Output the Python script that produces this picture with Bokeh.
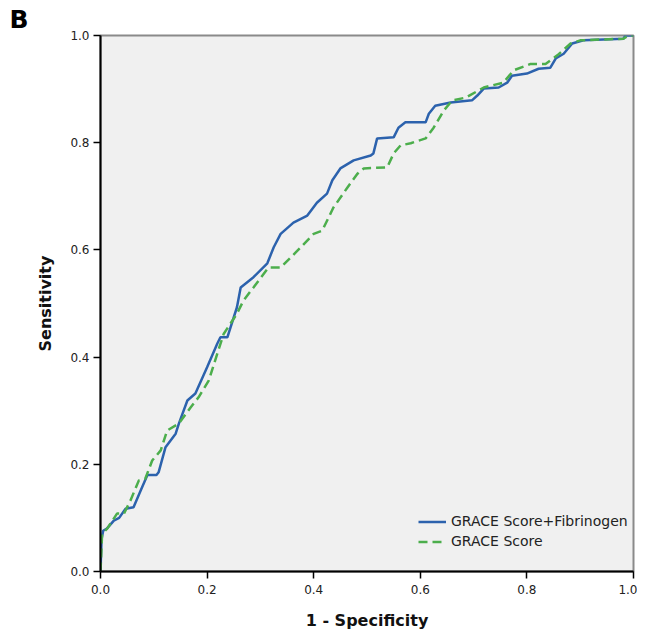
from bokeh.plotting import figure
from bokeh.models import Range1d, FixedTicker, PrintfTickFormatter, Legend, LegendItem
from bokeh.embed import file_html
from bokeh.resources import INLINE

# GRACE Score + Fibrinogen (blue, solid step-like ROC curve)
fib_x = [0, 0.002, 0.005, 0.012, 0.025, 0.035, 0.047, 0.062, 0.075, 0.088, 0.105, 0.109,
         0.122, 0.141, 0.147, 0.163, 0.178, 0.2, 0.219, 0.225, 0.238, 0.256, 0.263, 0.287,
         0.313, 0.325, 0.338, 0.362, 0.388, 0.406, 0.425, 0.435, 0.45, 0.475, 0.507, 0.512,
         0.519, 0.55, 0.559, 0.572, 0.61, 0.616, 0.628, 0.657, 0.697, 0.707, 0.719, 0.747,
         0.763, 0.772, 0.8, 0.822, 0.844, 0.854, 0.869, 0.885, 0.906, 0.981, 0.985, 1.0]
fib_y = [0, 0.06, 0.076, 0.08, 0.095, 0.1, 0.117, 0.12, 0.15, 0.18, 0.18, 0.185,
         0.232, 0.257, 0.276, 0.319, 0.332, 0.381, 0.425, 0.437, 0.437, 0.493, 0.53, 0.549,
         0.575, 0.605, 0.63, 0.651, 0.664, 0.688, 0.705, 0.73, 0.752, 0.767, 0.776, 0.78,
         0.808, 0.81, 0.828, 0.838, 0.838, 0.854, 0.869, 0.875, 0.879, 0.888, 0.901, 0.903,
         0.912, 0.925, 0.929, 0.938, 0.94, 0.957, 0.966, 0.985, 0.991, 0.994, 1.0, 1.0]

# GRACE Score (green, dashed ROC curve)
grace_x = [0, 0.003, 0.0125, 0.031, 0.044, 0.056, 0.072, 0.084, 0.097, 0.113, 0.125, 0.147,
           0.169, 0.184, 0.203, 0.219, 0.231, 0.256, 0.268, 0.287, 0.315, 0.338, 0.369, 0.4,
           0.416, 0.437, 0.463, 0.482, 0.494, 0.538, 0.55, 0.563, 0.582, 0.61, 0.625, 0.644,
           0.66, 0.685, 0.719, 0.756, 0.775, 0.807, 0.835, 0.857, 0.882, 0.9, 0.981, 0.99, 1.0]
grace_y = [0, 0.07, 0.08, 0.108, 0.108, 0.132, 0.17, 0.173, 0.207, 0.226, 0.263, 0.276,
           0.306, 0.325, 0.356, 0.406, 0.443, 0.481, 0.505, 0.53, 0.567, 0.567, 0.598, 0.63,
           0.636, 0.679, 0.716, 0.742, 0.752, 0.754, 0.78, 0.795, 0.799, 0.808, 0.828, 0.86,
           0.879, 0.884, 0.903, 0.912, 0.935, 0.947, 0.947, 0.963, 0.985, 0.991, 0.994, 1.0, 1.0]

tick_values = [0.0, 0.2, 0.4, 0.6, 0.8, 1.0]
series_labels = ["GRACE Score+Fibrinogen", "GRACE Score"]
panel_label = "B"

FONT = "DejaVu Sans"

p = figure(width=637, height=633, output_backend="svg", toolbar_location=None,
           x_range=Range1d(0, 1), y_range=Range1d(0, 1),
           min_border_left=100, min_border_right=4, min_border_top=35, min_border_bottom=62)

p.title.text = panel_label
p.title.align = "left"
p.title.offset = -91
p.title.standoff = 4
p.title.text_font = FONT
p.title.text_font_size = "25px"
p.title.text_font_style = "bold"
p.title.text_color = "black"
p.title.text_line_height = 1.0

p.background_fill_color = "#f0f0f0"
p.border_fill_color = "white"
p.outline_line_color = "#8a8a8a"
p.outline_line_width = 2
p.grid.visible = False

for ax in (p.xaxis[0], p.yaxis[0]):
    ax.ticker = FixedTicker(ticks=tick_values)
    ax.formatter = PrintfTickFormatter(format="%.1f")
    ax.axis_line_color = "black"
    ax.axis_line_width = 2
    ax.major_tick_line_color = "black"
    ax.major_tick_line_width = 1.5
    ax.major_tick_out = 7
    ax.major_tick_in = 0
    ax.minor_tick_line_color = None
    ax.major_label_text_font = FONT
    ax.major_label_text_font_size = "12px"
    ax.major_label_text_color = "#222222"
    ax.axis_label_text_font = FONT
    ax.axis_label_text_font_size = "16px"
    ax.axis_label_text_font_style = "bold"
    ax.axis_label_text_color = "#111111"

p.xaxis.axis_label = "1 - Specificity"
p.yaxis.axis_label = "Sensitivity"
p.xaxis.major_label_standoff = 6
p.yaxis.major_label_standoff = 4
p.xaxis.axis_label_standoff = 14
p.yaxis.axis_label_standoff = 12

r1 = p.line(fib_x, fib_y, line_color="#2c62ad", line_width=2.5)
r2 = p.line(grace_x, grace_y, line_color="#4cae4c", line_width=2.5, line_dash="9 5")

legend = Legend(items=[LegendItem(label=series_labels[0], renderers=[r1]),
                       LegendItem(label=series_labels[1], renderers=[r2])],
                location=(318, 22), padding=0, margin=0, spacing=4,
                glyph_width=28, glyph_height=15, label_height=15, label_standoff=5,
                label_text_font=FONT, label_text_font_size="14px", label_text_color="#222222",
                border_line_alpha=0, background_fill_alpha=0)
p.add_layout(legend)

open("out.html", "w").write(file_html(p, INLINE))
